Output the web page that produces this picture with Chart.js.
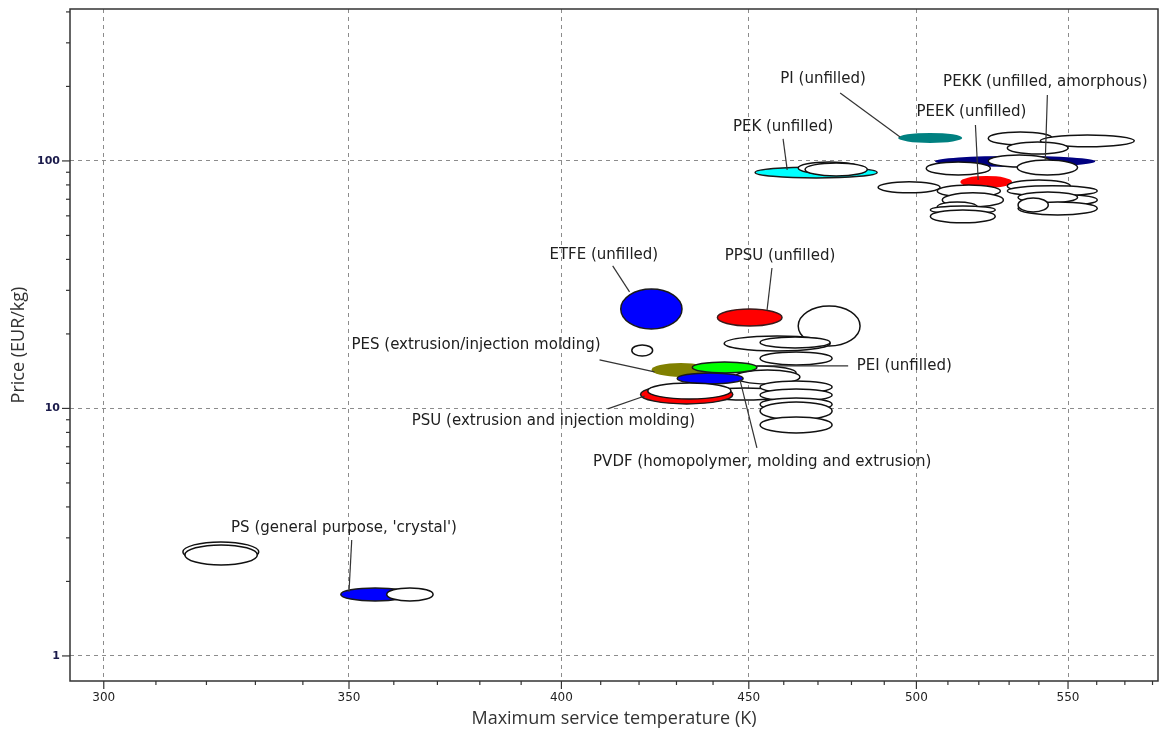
<!DOCTYPE html>
<html>
<head>
<meta charset="utf-8">
<script src="https://cdn.jsdelivr.net/npm/chart.js@4.4.0/dist/chart.umd.min.js"></script>
<style>
  html, body { margin: 0; padding: 0; background: #fff; }
</style>
</head>
<body>
<canvas id="canvas" width="1160" height="733"></canvas>
<script>
// each bubble = range of max service temperature (K) and price (EUR/kg)
// drawn in this order (later ones on top)
var materials = [
  "PS other a", "PS other b", "PS (general purpose, 'crystal')", "PS other c",
  "ETFE (unfilled)", "PVDF other", "PPSU (unfilled)", "PSU other a",
  "PES other a", "PES other b", "PEI other a", "PEI other b", "PES other c", "PSU other b",
  "PPSU other a", "PPSU other b", "PPSU other c", "PPSU other d", "PPSU other e",
  "PES (extrusion/injection molding)", "PEI (unfilled)", "PVDF (homopolymer, molding and extrusion)",
  "PSU (extrusion and injection molding)", "PSU other c",
  "PEK (unfilled)", "PEK other a", "PEK other b", "PI (unfilled)",
  "PEKK other a", "PEKK other b", "PEKK other c", "PEKK (unfilled, amorphous)", "PEKK other d",
  "PEEK other a", "PEEK other b", "PEEK (unfilled)", "PEEK other c", "PEEK other d",
  "PEEK other e", "PEEK other f", "PEEK other g", "PEEK other h", "PEEK other i",
  "PEEK other j", "PEEK other k", "PEEK other l", "PEEK other m", "PEEK other n"
];
var tempLow = [
  315.3, 315.7, 348.2, 358.4,
  415.2, 418.1, 441.2, 464.2,
  443.1, 453.2, 453.2, 443.1, 446.1, 436.3,
  453.2, 453.2, 453.2, 453.2, 453.2,
  423.3, 434.3, 430.2,
  420.4, 422.3,
  451.8, 464.2, 466.2, 494.3,
  523.1, 540.5, 529.4, 505.9, 523.1,
  503.1, 532.7, 514.0, 488.1, 529.4,
  529.4, 506.6, 540.5, 508.2, 533.0,
  506.6, 533.0, 533.0, 504.4, 504.4
];
var tempHigh = [
  330.7, 330.4, 363.6, 369.0,
  431.5, 423.6, 459.5, 482.6,
  473.6, 473.6, 474.2, 463.6, 464.7, 461.8,
  474.2, 474.2, 474.2, 474.2, 474.2,
  439.2, 452.3, 448.4,
  445.5, 445.0,
  487.8, 482.6, 484.8, 514.6,
  544.6, 573.4, 550.0, 559.5, 543.9,
  523.8, 553.3, 531.0, 507.5, 550.8,
  560.2, 527.1, 560.2, 528.1, 553.3,
  519.5, 560.2, 543.2, 525.4, 525.4
];
var priceLow = [
  2.398, 2.332, 1.668, 1.668,
  20.95, 16.30, 21.54, 17.88,
  17.07, 17.56, 14.99, 13.04, 12.56, 10.82,
  11.55, 10.72, 9.77, 8.985, 7.962,
  13.41, 13.91, 12.56,
  10.43, 10.92,
  85.4, 88.6, 87.0, 118.2,
  116.0, 114.0, 106.7, 94.6, 94.6,
  87.8, 87.8, 77.8, 74.3, 74.9,
  72.2, 71.5, 66.4, 65.2, 67.7,
  62.2, 60.5, 62.2, 61.1, 56.2
];
var priceHigh = [
  2.888, 2.809, 1.883, 1.883,
  30.4, 18.06, 25.23, 25.95,
  19.63, 19.45, 16.91, 14.85, 14.30, 12.10,
  12.91, 11.99, 11.03, 10.62, 9.24,
  15.27, 15.41, 13.91,
  12.44, 12.68,
  94.6, 99.1, 98.1, 129.8,
  131.0, 127.4, 119.3, 104.8, 105.7,
  99.1, 100.9, 87.0, 82.3, 83.8,
  79.3, 80.0, 72.9, 74.3, 74.9,
  68.3, 68.3, 70.9, 65.8, 63.4
];

// labelled materials: text anchor and leader line (in K and EUR/kg)
var labelText = [
  "PS (general purpose, 'crystal')", "ETFE (unfilled)", "PPSU (unfilled)",
  "PES (extrusion/injection molding)", "PEI (unfilled)", "PSU (extrusion and injection molding)",
  "PVDF (homopolymer, molding and extrusion)", "PEK (unfilled)", "PI (unfilled)",
  "PEEK (unfilled)", "PEKK (unfilled, amorphous)"
];
var labelT = [348.9, 410.8, 458.9, 379.1, 496.2, 398.0, 453.8, 459.8, 471.5, 517.6, 542.2];
var labelP = [3.29, 41.71, 41.32, 18.06, 14.85, 8.903, 6.079, 137.2, 214.5, 157.8, 208.6];
var leaderFromT = [350.6, 413.1, 456.6, 409.7, 479.0, 411.8, 452.3, 459.8, 476.6, 518.9, 542.9];
var leaderFromP = [2.942, 37.65, 36.95, 15.70, 14.85, 9.954, 6.924, 122.7, 188.2, 139.8, 184.8];
var leaderToT = [350.0, 417.5, 455.2, 424.1, 452.3, 421.5, 447.5, 461.0, 494.9, 519.8, 542.2];
var leaderToP = [1.813, 29.56, 25.0, 14.04, 14.85, 11.23, 13.04, 91.97, 125.0, 83.8, 100.9];

var xTicks = [300, 350, 400, 450, 500, 550];
var yTicks = [1, 10, 100];

// fills for highlighted materials, all others are open (white)
var highlight = {
  "PS (general purpose, 'crystal')": { fill: "#0000ff", stroke: "#1a1a1a" },
  "ETFE (unfilled)": { fill: "#0000ff", stroke: "#1a1a1a" },
  "PPSU (unfilled)": { fill: "#ff0000", stroke: "#3a1a1a" },
  "PES (extrusion/injection molding)": { fill: "#808000", stroke: null },
  "PEI (unfilled)": { fill: "#00ff00", stroke: "#1a1a1a" },
  "PVDF (homopolymer, molding and extrusion)": { fill: "#0000ff", stroke: "#1a1a1a" },
  "PSU (extrusion and injection molding)": { fill: "#ff0000", stroke: "#1a1a1a" },
  "PEK (unfilled)": { fill: "#00ffff", stroke: "#1a1a1a" },
  "PI (unfilled)": { fill: "#008080", stroke: null },
  "PEEK (unfilled)": { fill: "#ff0000", stroke: null },
  "PEKK (unfilled, amorphous)": { fill: "#000080", stroke: null }
};

var ellipsePlugin = {
  id: "ellipses",
  beforeDatasetsDraw: function (chart) {
    var ctx = chart.ctx;
    var xs = chart.scales.x;
    var ys = chart.scales.y;
    var a = chart.chartArea;
    ctx.save();
    ctx.beginPath();
    ctx.rect(a.left, a.top, a.right - a.left, a.bottom - a.top);
    ctx.clip();
    for (var i = 0; i < materials.length; i++) {
      var x1 = xs.getPixelForValue(tempLow[i]);
      var x2 = xs.getPixelForValue(tempHigh[i]);
      var y1 = ys.getPixelForValue(priceHigh[i]);
      var y2 = ys.getPixelForValue(priceLow[i]);
      var st = highlight[materials[i]] || { fill: "#ffffff", stroke: "#111111" };
      ctx.beginPath();
      ctx.ellipse((x1 + x2) / 2, (y1 + y2) / 2, (x2 - x1) / 2, (y2 - y1) / 2, 0, 0, Math.PI * 2);
      ctx.fillStyle = st.fill;
      ctx.fill();
      if (st.stroke) {
        ctx.lineWidth = 1.5;
        ctx.strokeStyle = st.stroke;
        ctx.stroke();
      }
    }
    ctx.restore();
  },
  afterDatasetsDraw: function (chart) {
    var ctx = chart.ctx;
    var xs = chart.scales.x;
    var ys = chart.scales.y;
    var a = chart.chartArea;
    ctx.save();
    // leader lines
    ctx.strokeStyle = "#333333";
    ctx.lineWidth = 1.2;
    for (var i = 0; i < labelText.length; i++) {
      ctx.beginPath();
      ctx.moveTo(xs.getPixelForValue(leaderFromT[i]), ys.getPixelForValue(leaderFromP[i]));
      ctx.lineTo(xs.getPixelForValue(leaderToT[i]), ys.getPixelForValue(leaderToP[i]));
      ctx.stroke();
    }
    // label text
    ctx.font = "15px 'DejaVu Sans'";
    ctx.fillStyle = "#202020";
    ctx.textAlign = "center";
    ctx.textBaseline = "middle";
    for (var j = 0; j < labelText.length; j++) {
      ctx.fillText(labelText[j], xs.getPixelForValue(labelT[j]), ys.getPixelForValue(labelP[j]));
    }
    // frame
    ctx.strokeStyle = "#333333";
    ctx.lineWidth = 1.5;
    ctx.strokeRect(a.left, a.top, a.right - a.left, a.bottom - a.top);
    // tick marks (major long, minor short)
    ctx.lineWidth = 1.2;
    xs.ticks.forEach(function (t) {
      var px = xs.getPixelForValue(t.value);
      ctx.beginPath();
      ctx.moveTo(px, a.bottom);
      ctx.lineTo(px, a.bottom + (t.major ? 8 : 4));
      ctx.stroke();
    });
    ys.ticks.forEach(function (t) {
      var py = ys.getPixelForValue(t.value);
      ctx.beginPath();
      ctx.moveTo(a.left - (t.major ? 8 : 4), py);
      ctx.lineTo(a.left, py);
      ctx.stroke();
    });
    ctx.restore();
  }
};

function buildXTicks(scale) {
  var list = [];
  for (var v = 300; v <= 580; v += 10) {
    list.push({ value: v, major: xTicks.indexOf(v) >= 0 });
  }
  scale.ticks = list;
}

function buildYTicks(scale) {
  var list = [];
  [1, 10, 100].forEach(function (dec) {
    for (var m = 1; m <= 9; m++) {
      var v = m * dec;
      if (v >= scale.min && v <= scale.max) {
        list.push({ value: v, major: yTicks.indexOf(v) >= 0 });
      }
    }
  });
  scale.ticks = list;
}

var gridColor = function (c) {
  return c.tick && c.tick.major ? "#8c8c8c" : "rgba(0,0,0,0)";
};

const ctx = document.getElementById("canvas").getContext("2d");

const myChart = new Chart(ctx, {
  type: "scatter",
  data: {
    datasets: [
      {
        label: "materials",
        data: [],
        pointRadius: 0,
      },
    ],
  },
  plugins: [ellipsePlugin],
  options: {
    responsive: false,
    animation: false,
    devicePixelRatio: 1,
    layout: { padding: { top: 9, right: 2, left: 0, bottom: 0 } },
    plugins: {
      legend: { display: false },
      tooltip: { enabled: false },
    },
    scales: {
      x: {
        type: "logarithmic",
        min: 293.7,
        max: 582,
        afterBuildTicks: buildXTicks,
        afterFit: function (s) { s.height = 52; },
        // tick marks drawn by the plugin, library ones kept invisible for spacing
        grid: { color: gridColor, drawTicks: true, tickLength: 8, tickColor: "rgba(0,0,0,0)", lineWidth: 1 },
        border: { display: false, dash: [4, 4] },
        ticks: {
          autoSkip: false,
          maxRotation: 0,
          padding: 2,
          color: "#222222",
          font: { family: "'DejaVu Sans'", size: 12 },
          callback: function (v) { return xTicks.indexOf(v) >= 0 ? String(v) : ""; },
        },
        title: {
          display: true,
          text: "Maximum service temperature (K)",
          color: "#333333",
          font: { family: "'Open Sans'", size: 18 },
          padding: { top: 0, bottom: 3 },
        },
      },
      y: {
        type: "logarithmic",
        min: 0.792,
        max: 411,
        afterBuildTicks: buildYTicks,
        afterFit: function (s) { s.width = 70; },
        grid: { color: gridColor, drawTicks: true, tickLength: 8, tickColor: "rgba(0,0,0,0)", lineWidth: 1 },
        border: { display: false, dash: [4, 4] },
        ticks: {
          autoSkip: false,
          padding: 2,
          color: "#1b1b4b",
          font: { family: "'DejaVu Sans'", size: 11, weight: "bold" },
          callback: function (v) { return yTicks.indexOf(v) >= 0 ? String(v) : ""; },
        },
        title: {
          display: true,
          text: "Price (EUR/kg)",
          color: "#333333",
          font: { family: "'Open Sans'", size: 18 },
          padding: { top: 8, bottom: 0 },
        },
      },
    },
  },
});
</script>
</body>
</html>
